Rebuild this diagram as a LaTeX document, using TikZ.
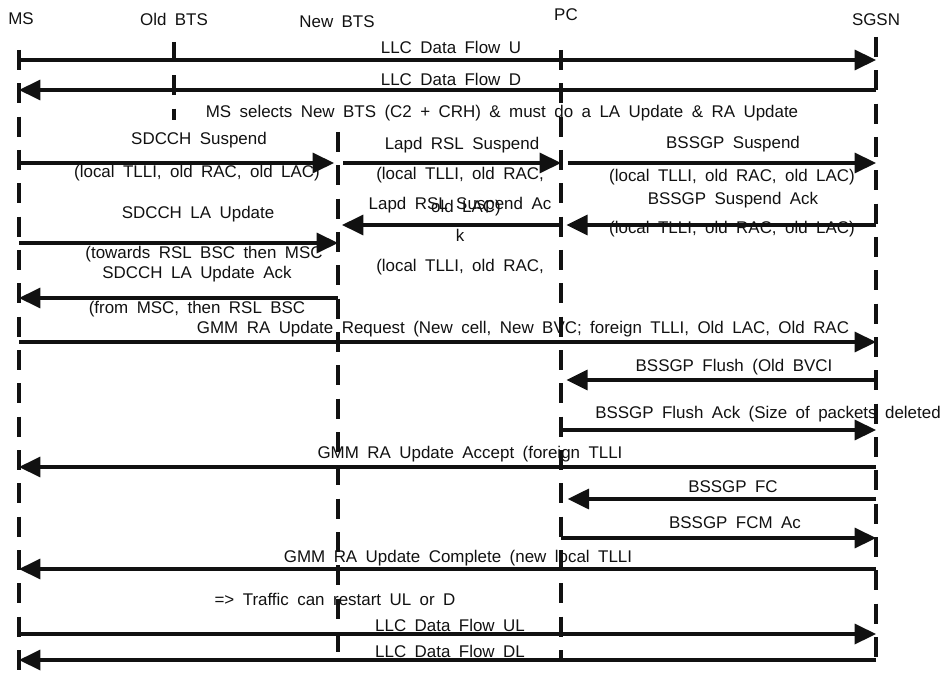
\documentclass[tikz,border=0pt]{standalone}
\usepackage{fontspec}
\setmainfont{Liberation Sans}[WordSpace=1.8]
\usepackage{xcolor}
\definecolor{cInk}{HTML}{111111}
\usepackage{tikz}
\usetikzlibrary{arrows.meta}
\newcommand{\msgfont}{\fontsize{12.7}{15}\selectfont}
\tikzset{
  entity/.style={inner sep=0pt,font=\msgfont,text=cInk},
  msg-label/.style={inner sep=0pt,font=\msgfont,text=cInk},
  msg/.style={-{Triangle[length=16pt,width=15pt]},line width=2.6pt,draw=cInk},
  lifeline/.style={line width=3pt,draw=cInk,dash pattern=on 15pt off 10pt},
}
\begin{document}
\begin{tikzpicture}[x=0.75pt,y=-0.75pt]
  \useasboundingbox (0,0) rectangle (944,673);
  % entities
  \node[entity] (ms-head)     at (21,19)  {MS};
  \node[entity] (oldbts-head) at (174,19) {Old BTS};
  \node[entity] (newbts-head) at (337,22) {New BTS};
  \node[entity] (pc-head)     at (566,15) {PC};
  \node[entity] (sgsn-head)   at (876,20) {SGSN};
  % lifelines
  \coordinate (ms)     at (19,50);  \coordinate (ms-end)     at (19,673);
  \coordinate (oldbts) at (174,42); \coordinate (oldbts-end) at (174,120);
  \coordinate (newbts) at (338,132);\coordinate (newbts-end) at (338,665);
  \coordinate (pc)     at (561,50); \coordinate (pc-end)     at (561,660);
  \coordinate (sgsn)   at (876,37); \coordinate (sgsn-end)   at (876,665);
  \draw[lifeline] (ms) -- (ms-end);
  \draw[lifeline] (oldbts) -- (oldbts-end);
  \draw[lifeline] (newbts) -- (newbts-end);
  \draw[lifeline] (pc) -- (pc-end);
  \draw[lifeline] (sgsn) -- (sgsn-end);
  % labels
  \node[msg-label] (l-u)    at (451,47)  {LLC Data Flow U};
  \node[msg-label] (l-d)    at (451,79)  {LLC Data Flow D};
  \node[msg-label] (l-sel)  at (502,113) {MS selects New BTS (C2 + CRH) \& must do a LA Update \& RA Update};
  \node[msg-label] (l-s1)   at (199,140) {SDCCH Suspend};
  \node[msg-label] (l-s1p)  at (197,173) {(local TLLI, old RAC, old LAC)};
  \node[msg-label] (l-s2)   at (462,145) {Lapd RSL Suspend};
  \node[msg-label] (l-s2p)  at (460,175) {(local TLLI, old RAC,};
  \node[msg-label] (l-s3)   at (733,144) {BSSGP Suspend};
  \node[msg-label] (l-s3p)  at (732,177) {(local TLLI, old RAC, old LAC)};
  \node[msg-label] (l-a2)   at (460,205) {Lapd RSL Suspend Ac};
  \node[msg-label] (l-s2q)  at (466,208) {old LAC)};
  \node[msg-label] (l-a2k)  at (460,235) {k};
  \node[msg-label] (l-a2p)  at (460,267) {(local TLLI, old RAC,};
  \node[msg-label] (l-a3)   at (733,200) {BSSGP Suspend Ack};
  \node[msg-label] (l-a3p)  at (732,229) {(local TLLI, old RAC, old LAC)};
  \node[msg-label] (l-la)   at (198,214) {SDCCH LA Update};
  \node[msg-label] (l-lap)  at (204,254) {(towards RSL BSC then MSC};
  \node[msg-label] (l-laa)  at (197,274) {SDCCH LA Update Ack};
  \node[msg-label] (l-laap) at (197,309) {(from MSC, then RSL BSC};
  \node[msg-label] (l-rq)   at (523,329) {GMM RA Update Request (New cell, New BVC; foreign TLLI, Old LAC, Old RAC};
  \node[msg-label] (l-fl)   at (734,367) {BSSGP Flush (Old BVCI};
  \node[msg-label] (l-fla)  at (768,414) {BSSGP Flush Ack (Size of packets deleted};
  \node[msg-label] (l-acc)  at (470,454) {GMM RA Update Accept (foreign TLLI};
  \node[msg-label] (l-fc)   at (733,487) {BSSGP FC};
  \node[msg-label] (l-fcm)  at (735,523) {BSSGP FCM Ac};
  \node[msg-label] (l-cmp)  at (458,558) {GMM RA Update Complete (new local TLLI};
  \node[msg-label] (l-tr)   at (335,599) {=> Traffic can restart UL or D};
  \node[msg-label] (l-ul)   at (450,625) {LLC Data Flow UL};
  \node[msg-label] (l-dl)   at (450,651) {LLC Data Flow DL};
  % messages
  \coordinate (m-u)   at (0,60);
  \coordinate (m-d)   at (0,90);
  \coordinate (m-s)   at (0,163);
  \coordinate (m-a)   at (0,225);
  \coordinate (m-la)  at (0,243);
  \coordinate (m-laa) at (0,298);
  \coordinate (m-rq)  at (0,342);
  \coordinate (m-fl)  at (0,380);
  \coordinate (m-fla) at (0,430);
  \coordinate (m-acc) at (0,467);
  \coordinate (m-fc)  at (0,499);
  \coordinate (m-fcm) at (0,538);
  \coordinate (m-cmp) at (0,569);
  \coordinate (m-ul)  at (0,634);
  \coordinate (m-dl)  at (0,660);
  \draw[msg] (ms |- m-u) -- (sgsn |- m-u);
  \draw[msg] (sgsn |- m-d) -- (ms |- m-d);
  \draw[msg,shorten >=3pt] (ms |- m-s) -- (newbts |- m-s);
  \draw[msg,shorten <=4pt] (newbts |- m-s) -- (pc |- m-s);
  \draw[msg,shorten <=5pt] (pc |- m-s) -- (sgsn |- m-s);
  \draw[msg,shorten >=3pt] (pc |- m-a) -- (newbts |- m-a);
  \draw[msg,shorten >=4pt] (sgsn |- m-a) -- (pc |- m-a);
  \draw[msg] (ms |- m-la) -- (newbts |- m-la);
  \draw[msg] (newbts |- m-laa) -- (ms |- m-laa);
  \draw[msg] (ms |- m-rq) -- (sgsn |- m-rq);
  \draw[msg,shorten >=4pt] (sgsn |- m-fl) -- (pc |- m-fl);
  \draw[msg] (pc |- m-fla) -- (sgsn |- m-fla);
  \draw[msg] (sgsn |- m-acc) -- (ms |- m-acc);
  \draw[msg,shorten >=5pt] (sgsn |- m-fc) -- (pc |- m-fc);
  \draw[msg] (pc |- m-fcm) -- (sgsn |- m-fcm);
  \draw[msg] (sgsn |- m-cmp) -- (ms |- m-cmp);
  \draw[msg] (ms |- m-ul) -- (sgsn |- m-ul);
  \draw[msg] (sgsn |- m-dl) -- (ms |- m-dl);
\end{tikzpicture}
\end{document}
